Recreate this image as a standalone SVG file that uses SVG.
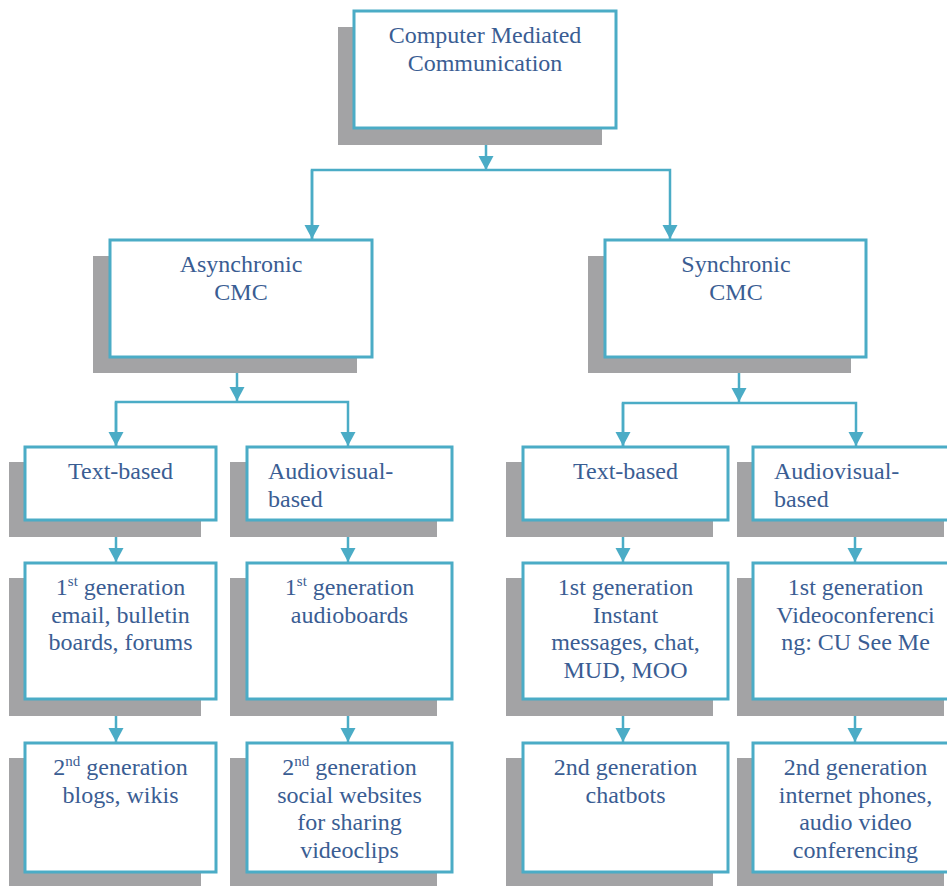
<svg xmlns="http://www.w3.org/2000/svg" width="947" height="886" viewBox="0 0 947 886">
  <style>
    .shadow { fill: #a3a3a5; }
    .box { fill: #ffffff; stroke: #4bacc6; stroke-width: 3; }
    .label { font-size: 24px; fill: #3a5d93; }
    .mid { text-anchor: middle; }
    .sup { font-size: 15px; }
    .link { fill: none; stroke: #4bacc6; stroke-width: 2.5; }
  </style>
  <defs>
    <marker id="arrow" markerUnits="userSpaceOnUse" markerWidth="14" markerHeight="16" viewBox="0 0 14 16" refX="14" refY="8" orient="auto">
      <path d="M0 0.5 L14 8 L0 15.5 Z" fill="#4bacc6"/>
    </marker>
  </defs>
  <rect width="947" height="886" fill="#ffffff"/>

  <!-- connectors -->
  <g id="connectors" class="link">
    <path d="M486 128 V170" marker-end="url(#arrow)"/>
    <path d="M312 239 V170 H670 V239" marker-end="url(#arrow)"/>
    <path d="M312 170 V239" marker-end="url(#arrow)"/>

    <path d="M237 357 V401" marker-end="url(#arrow)"/>
    <path d="M116 446 V402 H348 V446" marker-end="url(#arrow)"/>
    <path d="M116 402 V446" marker-end="url(#arrow)"/>

    <path d="M739 357 V402" marker-end="url(#arrow)"/>
    <path d="M623 446 V403 H856 V446" marker-end="url(#arrow)"/>
    <path d="M623 403 V446" marker-end="url(#arrow)"/>

    <path d="M116 521 V562" marker-end="url(#arrow)"/>
    <path d="M348 521 V562" marker-end="url(#arrow)"/>
    <path d="M623 521 V562" marker-end="url(#arrow)"/>
    <path d="M855 521 V562" marker-end="url(#arrow)"/>

    <path d="M116 700 V742" marker-end="url(#arrow)"/>
    <path d="M348 700 V742" marker-end="url(#arrow)"/>
    <path d="M623 700 V742" marker-end="url(#arrow)"/>
    <path d="M855 700 V742" marker-end="url(#arrow)"/>
  </g>

  <g id="nodes" font-family="'Times New Roman', 'Liberation Serif', 'DejaVu Serif', serif">
  <!-- root -->
  <g id="cmc">
    <rect class="shadow" x="338" y="27" width="264" height="118"/>
    <rect class="box" x="354" y="11" width="262" height="117"/>
    <text class="label mid" x="485" y="43">Computer Mediated</text>
    <text class="label mid" x="485" y="70.5">Communication</text>
  </g>

  <!-- second level -->
  <g id="asynchronic">
    <rect class="shadow" x="93" y="256" width="264" height="117"/>
    <rect class="box" x="110" y="240" width="262" height="117"/>
    <text class="label mid" x="241" y="272">Asynchronic</text>
    <text class="label mid" x="241" y="299.5">CMC</text>
  </g>
  <g id="synchronic">
    <rect class="shadow" x="588" y="256" width="263" height="117"/>
    <rect class="box" x="605" y="240" width="261" height="117"/>
    <text class="label mid" x="736" y="272">Synchronic</text>
    <text class="label mid" x="736" y="299.5">CMC</text>
  </g>

  <!-- third level -->
  <g id="async-text">
    <rect class="shadow" x="9" y="462" width="192" height="75"/>
    <rect class="box" x="25" y="447" width="191" height="73"/>
    <text class="label mid" x="120.5" y="479">Text-based</text>
  </g>
  <g id="async-av">
    <rect class="shadow" x="230" y="462" width="207" height="75"/>
    <rect class="box" x="247" y="447" width="205" height="73"/>
    <text class="label" x="268" y="479">Audiovisual-</text>
    <text class="label" x="268" y="506.5">based</text>
  </g>
  <g id="sync-text">
    <rect class="shadow" x="506" y="462" width="207" height="75"/>
    <rect class="box" x="523" y="447" width="205" height="73"/>
    <text class="label mid" x="625.5" y="479">Text-based</text>
  </g>
  <g id="sync-av">
    <rect class="shadow" x="737" y="462" width="207" height="75"/>
    <rect class="box" x="753" y="447" width="205" height="73"/>
    <text class="label" x="774" y="479">Audiovisual-</text>
    <text class="label" x="774" y="506.5">based</text>
  </g>

  <!-- first generation -->
  <g id="async-text-gen1">
    <rect class="shadow" x="9" y="578" width="192" height="138"/>
    <rect class="box" x="25" y="563" width="191" height="136"/>
    <text class="label mid" x="120.5" y="595">1<tspan class="sup" dy="-9">st</tspan><tspan dy="9"> generation</tspan></text>
    <text class="label mid" x="120.5" y="622.5">email, bulletin</text>
    <text class="label mid" x="120.5" y="650">boards, forums</text>
  </g>
  <g id="async-av-gen1">
    <rect class="shadow" x="230" y="578" width="207" height="138"/>
    <rect class="box" x="247" y="563" width="205" height="136"/>
    <text class="label mid" x="349.5" y="595">1<tspan class="sup" dy="-9">st</tspan><tspan dy="9"> generation</tspan></text>
    <text class="label mid" x="349.5" y="622.5">audioboards</text>
  </g>
  <g id="sync-text-gen1">
    <rect class="shadow" x="506" y="578" width="207" height="138"/>
    <rect class="box" x="523" y="563" width="205" height="136"/>
    <text class="label mid" x="625.5" y="595">1st generation</text>
    <text class="label mid" x="625.5" y="622.5">Instant</text>
    <text class="label mid" x="625.5" y="650">messages, chat,</text>
    <text class="label mid" x="625.5" y="677.5">MUD, MOO</text>
  </g>
  <g id="sync-av-gen1">
    <rect class="shadow" x="737" y="578" width="207" height="138"/>
    <rect class="box" x="753" y="563" width="205" height="136"/>
    <text class="label mid" x="855.5" y="595">1st generation</text>
    <text class="label mid" x="855.5" y="622.5">Videoconferenci</text>
    <text class="label mid" x="855.5" y="650">ng: CU See Me</text>
  </g>

  <!-- second generation -->
  <g id="async-text-gen2">
    <rect class="shadow" x="9" y="758" width="192" height="131"/>
    <rect class="box" x="25" y="743" width="191" height="129"/>
    <text class="label mid" x="120.5" y="775">2<tspan class="sup" dy="-9">nd</tspan><tspan dy="9"> generation</tspan></text>
    <text class="label mid" x="120.5" y="802.5">blogs, wikis</text>
  </g>
  <g id="async-av-gen2">
    <rect class="shadow" x="230" y="758" width="207" height="131"/>
    <rect class="box" x="247" y="743" width="205" height="129"/>
    <text class="label mid" x="349.5" y="775">2<tspan class="sup" dy="-9">nd</tspan><tspan dy="9"> generation</tspan></text>
    <text class="label mid" x="349.5" y="802.5">social websites</text>
    <text class="label mid" x="349.5" y="830">for sharing</text>
    <text class="label mid" x="349.5" y="857.5">videoclips</text>
  </g>
  <g id="sync-text-gen2">
    <rect class="shadow" x="506" y="758" width="207" height="131"/>
    <rect class="box" x="523" y="743" width="205" height="129"/>
    <text class="label mid" x="625.5" y="775">2nd generation</text>
    <text class="label mid" x="625.5" y="802.5">chatbots</text>
  </g>
  <g id="sync-av-gen2">
    <rect class="shadow" x="737" y="758" width="207" height="131"/>
    <rect class="box" x="753" y="743" width="205" height="129"/>
    <text class="label mid" x="855.5" y="775">2nd generation</text>
    <text class="label mid" x="855.5" y="802.5">internet phones,</text>
    <text class="label mid" x="855.5" y="830">audio video</text>
    <text class="label mid" x="855.5" y="857.5">conferencing</text>
  </g>
  </g>
</svg>
